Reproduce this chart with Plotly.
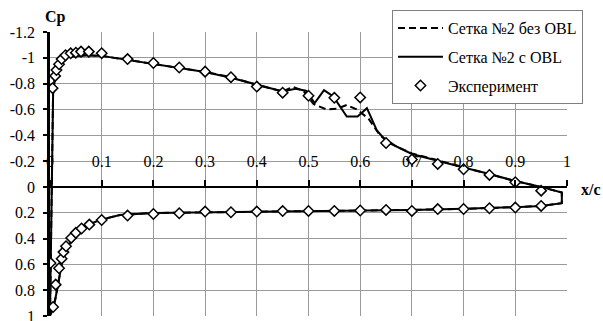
import plotly.graph_objects as go

# --- Сетка №2 с OBL: upper surface (LE -> TE), then lower surface (TE -> LE)
obl_upper_x = [0.0, 0.002, 0.004, 0.006, 0.01, 0.015, 0.02, 0.03, 0.04, 0.05, 0.07, 0.1,
               0.15, 0.2, 0.25, 0.3, 0.35, 0.4, 0.45, 0.475, 0.495, 0.512, 0.53, 0.548,
               0.574, 0.595, 0.613, 0.632, 0.651, 0.7, 0.75, 0.8, 0.85, 0.9, 0.95, 0.99]
obl_upper_cp = [1.0, 0.3, -0.5, -0.72, -0.86, -0.93, -0.96, -1.0, -1.01, -1.015, -1.02, -1.015,
                -0.985, -0.955, -0.92, -0.89, -0.845, -0.79, -0.74, -0.76, -0.745, -0.65, -0.75, -0.70,
                -0.545, -0.545, -0.61, -0.44, -0.35, -0.255, -0.2, -0.15, -0.1, -0.045, 0.0, 0.044]
obl_lower_x = [0.99, 0.95, 0.9, 0.85, 0.8, 0.7, 0.6, 0.5, 0.4, 0.3, 0.2, 0.135, 0.097,
               0.064, 0.045, 0.032, 0.023, 0.016, 0.01, 0.005, 0.002, 0.0]
obl_lower_cp = [0.126, 0.147, 0.157, 0.165, 0.17, 0.178, 0.182, 0.186, 0.19, 0.194, 0.202, 0.217, 0.256,
                0.307, 0.385, 0.488, 0.59, 0.746, 0.875, 0.95, 0.985, 1.0]

# --- Сетка №2 без OBL
noobl_upper_x = [0.0, 0.002, 0.004, 0.006, 0.01, 0.015, 0.02, 0.03, 0.04, 0.05, 0.07, 0.1,
                 0.15, 0.2, 0.25, 0.3, 0.32, 0.35, 0.4, 0.45, 0.47, 0.49, 0.51, 0.535, 0.555,
                 0.574, 0.593, 0.616, 0.638, 0.671, 0.7, 0.75, 0.8, 0.85, 0.9, 0.95, 0.99]
noobl_upper_cp = [1.0, 0.3, -0.5, -0.74, -0.87, -0.935, -0.965, -1.0, -1.01, -1.015, -1.02, -1.015,
                  -0.985, -0.955, -0.92, -0.89, -0.875, -0.85, -0.79, -0.74, -0.775, -0.745, -0.64, -0.60, -0.605,
                  -0.635, -0.60, -0.53, -0.40, -0.31, -0.26, -0.205, -0.15, -0.1, -0.045, 0.0, 0.044]
noobl_lower_x = [0.99, 0.95, 0.9, 0.85, 0.8, 0.7, 0.6, 0.5, 0.4, 0.3, 0.2, 0.135, 0.097,
                 0.064, 0.045, 0.032, 0.023, 0.016, 0.01, 0.005, 0.002, 0.0]
noobl_lower_cp = [0.126, 0.147, 0.157, 0.165, 0.17, 0.178, 0.182, 0.186, 0.19, 0.194, 0.202, 0.217, 0.256,
                  0.307, 0.385, 0.488, 0.59, 0.746, 0.875, 0.95, 0.985, 1.0]

# --- Эксперимент
exp_upper_x = [0.005, 0.01, 0.0125, 0.0175, 0.0225, 0.03, 0.04, 0.05, 0.06, 0.075, 0.1,
               0.15, 0.2, 0.25, 0.3, 0.35, 0.4, 0.45, 0.5, 0.55, 0.6, 0.65, 0.7, 0.75,
               0.8, 0.85, 0.9, 0.95]
exp_upper_cp = [-0.765, -0.86, -0.905, -0.95, -0.99, -1.02, -1.035, -1.04, -1.048, -1.048, -1.036,
                -0.99, -0.96, -0.925, -0.893, -0.85, -0.777, -0.73, -0.706, -0.69, -0.693, -0.34, -0.212, -0.178,
                -0.137, -0.093, -0.036, 0.029]
exp_lower_x = [0.001, 0.006, 0.011, 0.0175, 0.0225, 0.026, 0.031, 0.041, 0.05, 0.061, 0.076, 0.1,
               0.15, 0.2, 0.25, 0.3, 0.35, 0.4, 0.45, 0.5, 0.55, 0.6, 0.65, 0.7, 0.75,
               0.8, 0.85, 0.9, 0.95]
exp_lower_cp = [0.59, 0.93, 0.757, 0.63, 0.556, 0.505, 0.46, 0.395, 0.356, 0.322, 0.292, 0.256,
                0.222, 0.21, 0.204, 0.191, 0.196, 0.191, 0.187, 0.186, 0.186, 0.183, 0.178, 0.186, 0.172,
                0.171, 0.165, 0.16, 0.147]

# --- axis ticks
x_ticks = [0, 0.1, 0.2, 0.3, 0.4, 0.5, 0.6, 0.7, 0.8, 0.9, 1]
x_tick_text = ["0", "0.1", "0.2", "0.3", "0.4", "0.5", "0.6", "0.7", "0.8", "0.9", "1"]
y_ticks = [-1.2, -1.0, -0.8, -0.6, -0.4, -0.2, 0, 0.2, 0.4, 0.6, 0.8, 1.0]
y_tick_text = ["-1.2", "-1", "-0.8", "-0.6", "-0.4", "-0.2", "0", "0.2", "0.4", "0.6", "0.8", "1"]

FONT = "Liberation Serif"
Y_MIN, Y_MAX = -1.2, 1.0

fig = go.Figure()

fig.add_trace(go.Scatter(
    x=noobl_upper_x + noobl_lower_x, y=noobl_upper_cp + noobl_lower_cp,
    mode="lines", name="Сетка №2 без OBL", legendgroup="a",
    line=dict(color="black", width=2, dash="7px,4px"),
))
fig.add_trace(go.Scatter(
    x=obl_upper_x + obl_lower_x, y=obl_upper_cp + obl_lower_cp,
    mode="lines", name="Сетка №2 с OBL", legendgroup="b",
    line=dict(color="black", width=2),
))
fig.add_trace(go.Scatter(
    x=exp_upper_x + exp_lower_x, y=exp_upper_cp + exp_lower_cp,
    mode="markers", name="Эксперимент", legendgroup="c",
    marker=dict(symbol="diamond", size=8, color="white",
                line=dict(color="black", width=1.5)),
))

grid = "#9a9a9a"
fig.update_layout(
    width=603, height=321,
    margin=dict(l=50, r=36, t=32, b=5),
    paper_bgcolor="white", plot_bgcolor="white",
    font=dict(family=FONT, size=16, color="black"),
    showlegend=True,
    legend=dict(
        x=0.6615, y=1.0775, xanchor="left", yanchor="top",
        bgcolor="white", bordercolor="#7f7f7f", borderwidth=1,
        font=dict(family=FONT, size=16), tracegroupgap=5, itemwidth=45,
    ),
    xaxis=dict(
        range=[0, 1], tickvals=x_ticks, ticktext=x_tick_text, automargin=False,
        showgrid=True, gridcolor=grid, gridwidth=1.4,
        zeroline=False, showline=True, linecolor="black", linewidth=2,
        side="top", anchor="free", position=(Y_MAX - 0) / (Y_MAX - Y_MIN),
        ticks="outside", ticklen=6, tickwidth=2, tickcolor="black",
        ticklabelstandoff=7, tickfont=dict(family=FONT, size=16),
    ),
    yaxis=dict(
        range=[Y_MAX, Y_MIN], tickvals=y_ticks, ticktext=y_tick_text, automargin=False,
        showgrid=True, gridcolor=grid, gridwidth=1.4,
        zeroline=False, showline=True, linecolor="black", linewidth=2.5,
        ticks="outside", ticklen=4, tickwidth=1.5, tickcolor="black",
        ticklabelstandoff=5, ticklabeloverflow="allow",
        tickfont=dict(family=FONT, size=16),
    ),
    annotations=[
        dict(text="<b>Cp</b>", xref="paper", yref="paper", x=0.0116, y=1.053,
             xanchor="center", yanchor="middle", showarrow=False,
             font=dict(family=FONT, size=16)),
        dict(text="<b>x/c</b>", xref="paper", yref="paper", x=1.046, y=0.4437,
             xanchor="center", yanchor="middle", showarrow=False,
             font=dict(family=FONT, size=16)),
    ],
)

fig.write_html("out.html")
